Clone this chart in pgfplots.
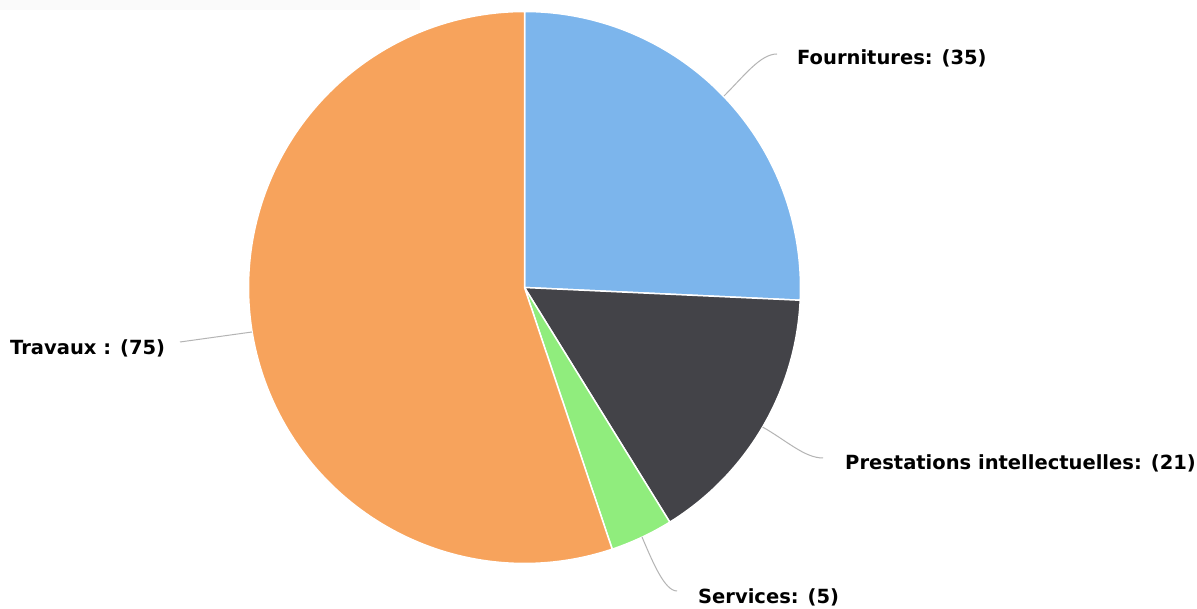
\documentclass[border=0pt]{standalone}
\usepackage{pgfplots}
\pgfplotsset{compat=1.18}
\usepackage{pgfplotstable}
\usepackage{fontspec}
\setmainfont{DejaVu Sans}
\definecolor{cFour}{HTML}{7CB5EC}
\definecolor{cPrest}{HTML}{434348}
\definecolor{cServ}{HTML}{90ED7D}
\definecolor{cTrav}{HTML}{F7A35C}
\definecolor{cConn}{HTML}{B4B4B4}
\definecolor{cBand}{HTML}{FAFAFA}

\pgfplotstableread{
label value
Fournitures 35
Prestations 21
Services 5
Travaux 75
}\piedata

\begin{document}
\begin{tikzpicture}
\pgfplotstablegetelem{0}{value}\of\piedata \let\vA\pgfplotsretval
\pgfplotstablegetelem{1}{value}\of\piedata \let\vB\pgfplotsretval
\pgfplotstablegetelem{2}{value}\of\piedata \let\vC\pgfplotsretval
\pgfplotstablegetelem{3}{value}\of\piedata \let\vD\pgfplotsretval
\pgfmathsetmacro{\tot}{\vA+\vB+\vC+\vD}
\pgfmathsetmacro{\aA}{90-360*\vA/\tot}
\pgfmathsetmacro{\aB}{\aA-360*\vB/\tot}
\pgfmathsetmacro{\aC}{\aB-360*\vC/\tot}
\def\R{276}
\begin{axis}[x=1bp,y=1bp,xmin=-524.5,xmax=672.5,ymin=-321.5,ymax=287.5,
  hide axis,scale only axis,clip=false]
\fill[white] (axis cs:-524.5,-321.5) rectangle (axis cs:672.5,287.5);
\fill[cBand] (axis cs:-524.5,277.5) rectangle (axis cs:-104.5,287.5);
\addplot[fill=cFour, draw=white, line width=1.5bp, line join=round, domain=\aA:90, samples=80, variable=\t]
  ({\R*cos(\t)},{\R*sin(\t)}) -- (axis cs:0,0) -- cycle;
\addplot[fill=cPrest, draw=white, line width=1.5bp, line join=round, domain=\aB:\aA, samples=60, variable=\t]
  ({\R*cos(\t)},{\R*sin(\t)}) -- (axis cs:0,0) -- cycle;
\addplot[fill=cServ, draw=white, line width=1.5bp, line join=round, domain=\aC:\aB, samples=20, variable=\t]
  ({\R*cos(\t)},{\R*sin(\t)}) -- (axis cs:0,0) -- cycle;
\addplot[fill=cTrav, draw=white, line width=1.5bp, line join=round, domain=-270:\aC, samples=160, variable=\t]
  ({\R*cos(\t)},{\R*sin(\t)}) -- (axis cs:0,0) -- cycle;
% connectors
\draw[cConn, line width=1bp] (axis cs:199.5,191.5) .. controls (axis cs:220,212) and (axis cs:236,233.5) .. (axis cs:252.5,233.5);
\draw[cConn, line width=1bp] (axis cs:-272.5,-44.5) -- (axis cs:-344.5,-54.5);
\draw[cConn, line width=1bp] (axis cs:238,-139.5) .. controls (axis cs:262,-153) and (axis cs:280,-170.5) .. (axis cs:298.5,-170.5);
\draw[cConn, line width=1bp] (axis cs:117.5,-249.5) .. controls (axis cs:128,-274) and (axis cs:140,-303.5) .. (axis cs:152.5,-303.5);
% labels
\tikzset{lab/.style={anchor=west, inner sep=0pt, font=\fontsize{19.5bp}{23bp}\selectfont\bfseries}}
\node[lab] at (axis cs:272.5,229.5) {Fournitures: (35)};
\node[lab] at (axis cs:-514.5,-60.5) {Travaux : (75)};
\node[lab] at (axis cs:320.5,-175.5) {Prestations intellectuelles: (21)};
\node[lab] at (axis cs:173.5,-309.5) {Services: (5)};
\end{axis}
\end{tikzpicture}
\end{document}
